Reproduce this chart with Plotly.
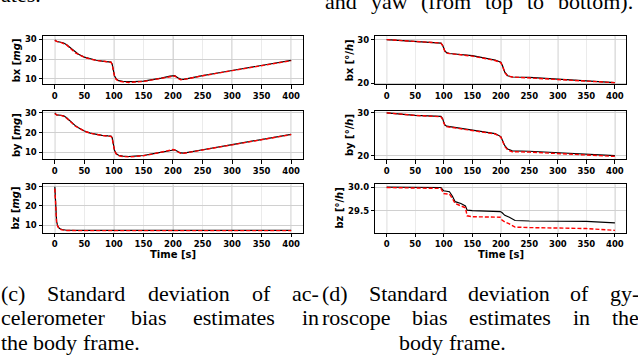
import plotly.graph_objects as go
from plotly.subplots import make_subplots

W, H = 638, 362

# accelerometer bias std [mg]
t_acc = [0, 3, 10, 15, 20, 25, 30, 35, 40, 50, 60, 70, 80, 90, 95, 97, 99, 101, 104, 108,
         115, 125, 135, 150, 165, 180, 195, 200, 203, 208, 213, 218, 225, 250, 300, 350, 400]
acc_bx_est = [29.8, 29.0, 28.6, 28.2, 27.3, 26.0, 24.6, 23.5, 22.5, 21.0, 20.0, 19.4, 19.0, 18.8,
              18.5, 17.5, 14.0, 11.5, 9.8, 9.0, 8.6, 8.4, 8.5, 8.8, 9.5, 10.3, 11.3, 11.7, 11.6,
              10.5, 9.8, 9.7, 10.2, 11.6, 14.2, 16.8, 19.3]
acc_bx_ref = [29.5, 29.0, 28.5, 28.0, 27.2, 25.8, 24.3, 23.2, 22.4, 20.9, 20.0, 19.3, 19.0, 18.7,
              18.4, 17.3, 13.8, 11.2, 9.6, 8.8, 8.4, 8.1, 8.3, 8.6, 9.4, 10.2, 11.2, 11.6, 11.4,
              10.2, 9.5, 9.6, 10.1, 11.5, 14.1, 16.7, 19.2]
acc_by_est = [30.0, 29.0, 28.8, 28.5, 27.5, 26.0, 24.5, 23.4, 22.5, 20.8, 19.7, 19.0, 18.6, 18.3,
              18.2, 17.5, 14.0, 11.0, 9.3, 8.5, 8.1, 7.9, 8.1, 8.4, 9.2, 10.1, 11.1, 11.5, 11.3,
              10.4, 9.7, 9.6, 10.0, 11.3, 13.9, 16.5, 19.1]
acc_by_ref = [29.6, 29.0, 28.7, 28.3, 27.3, 25.8, 24.3, 23.2, 22.4, 20.7, 19.7, 19.0, 18.5, 18.2,
              18.1, 17.3, 13.7, 10.8, 9.1, 8.3, 7.9, 7.7, 7.9, 8.3, 9.1, 10.0, 11.0, 11.4, 11.1,
              10.2, 9.5, 9.5, 9.9, 11.2, 13.8, 16.4, 19.0]
t_acc_z = [0, 1, 2, 3, 5, 8, 12, 20, 40, 100, 200, 300, 400]
acc_bz_est = [30.0, 22.0, 16.0, 12.0, 9.5, 8.3, 7.8, 7.4, 7.3, 7.3, 7.3, 7.3, 7.3]
acc_bz_ref = [29.0, 21.0, 15.0, 11.5, 9.2, 8.1, 7.6, 7.3, 7.2, 7.2, 7.2, 7.2, 7.2]

# gyroscope bias std [deg/h]
t_gyr = [0, 50, 95, 98, 100, 102, 105, 110, 150, 190, 200, 203, 207, 212, 220, 250, 300, 350, 400]
gyr_bx_est = [30.0, 29.6, 29.2, 28.7, 28.0, 27.4, 27.0, 26.8, 26.3, 25.3, 24.8, 24.0, 22.5, 21.7,
              21.4, 21.3, 20.9, 20.5, 20.1]
gyr_bx_ref = [30.0, 29.5, 29.2, 28.6, 27.9, 27.3, 26.9, 26.8, 26.2, 25.2, 24.7, 23.9, 22.4, 21.6,
              21.4, 21.2, 20.8, 20.4, 20.1]
gyr_by_est = [30.0, 29.4, 29.2, 28.7, 27.8, 27.2, 26.9, 26.8, 26.1, 25.2, 24.5, 23.6, 22.4, 21.6,
              21.2, 21.1, 20.8, 20.5, 20.1]
gyr_by_ref = [30.0, 29.4, 29.1, 28.5, 27.7, 27.1, 26.8, 26.7, 26.0, 25.1, 24.4, 23.5, 22.2, 21.4,
              21.0, 20.9, 20.6, 20.2, 19.9]
t_gyr_z = [0, 95, 100, 110, 115, 120, 130, 138, 141, 150, 199, 202, 207, 215, 225, 250, 350, 400]
gyr_bz_est = [30.0, 29.99, 29.92, 29.9, 29.81, 29.69, 29.65, 29.6, 29.51, 29.5, 29.48, 29.46,
              29.4, 29.36, 29.29, 29.28, 29.27, 29.24]
gyr_bz_ref = [29.99, 29.97, 29.86, 29.85, 29.76, 29.65, 29.6, 29.56, 29.39, 29.37, 29.36, 29.3,
              29.26, 29.22, 29.15, 29.14, 29.12, 29.08]

x_ticks = [0, 50, 100, 150, 200, 250, 300, 350, 400]

cap_top = [["ates."], ["and", "yaw", "(from", "top", "to", "bottom)."]]
cap_c = [["(c)", "Standard", "deviation", "of", "ac-"],
         ["celerometer", "bias", "estimates", "in"],
         ["the", "body", "frame."]]
cap_d = [["(d)", "Standard", "deviation", "of", "gy-"],
         ["roscope", "bias", "estimates", "in", "the"],
         ["body", "frame."]]

panels = [
    # row, col, t, black, red, y range, y title, y ticks, title x (px)
    (1, 1, t_acc, acc_bx_est, acc_bx_ref, [7.1, 31.6], "bx [<i>mg</i>]", [10, 20, 30], 16),
    (2, 1, t_acc, acc_by_est, acc_by_ref, [6.5, 31.0], "by [<i>mg</i>]", [10, 20, 30], 16),
    (3, 1, t_acc_z, acc_bz_est, acc_bz_ref, [6.1, 31.2], "bz [<i>mg</i>]", [10, 20, 30], 16),
    (1, 2, t_gyr, gyr_bx_est, gyr_bx_ref, [19.7, 30.75], "bx [°/<i>h</i>]", [20, 30], 349),
    (2, 2, t_gyr, gyr_by_est, gyr_by_ref, [19.25, 30.45], "by [°/<i>h</i>]", [20, 30], 349),
    (3, 2, t_gyr_z, gyr_bz_est, gyr_bz_ref, [29.03, 30.056], "bz [°/<i>h</i>]", [29.5, 30.0], 340),
]

col_dom = {1: [0.0674, 0.4749], 2: [0.5882, 0.9817]}
row_dom = {1: [0.7707, 0.9061], 2: [0.5599, 0.6961], 3: [0.3528, 0.4890]}

fig = make_subplots(rows=3, cols=2)

tick_font = dict(family="DejaVu Sans", size=8.5, color="black", weight="bold")
label_font = dict(family="DejaVu Sans", size=10, color="black", weight="bold")

for row, col, t, black, red, yr, ytitle, yticks, tx in panels:
    fig.add_trace(go.Scatter(x=t, y=black, mode="lines",
                             line=dict(color="black", width=1.2)), row=row, col=col)
    fig.add_trace(go.Scatter(x=t, y=red, mode="lines",
                             line=dict(color="red", width=1.4, dash="4px,2px")), row=row, col=col)
    fig.update_xaxes(domain=col_dom[col], range=[-20, 420], tickvals=x_ticks,
                     showgrid=True, gridcolor="#ebebeb", gridwidth=1, zeroline=False,
                     ticks="outside", ticklen=3.5, tickcolor="black", tickfont=tick_font,
                     showline=True, linecolor="black", linewidth=1, mirror=True,
                     row=row, col=col)
    fig.update_yaxes(domain=row_dom[row], range=yr, tickvals=yticks,
                     tickformat=".1f" if 29 < yticks[0] < 29.9 else "d",
                     showgrid=True, gridcolor="#d0d0d0", gridwidth=1, zeroline=False,
                     ticks="outside", ticklen=3.5, tickcolor="black", tickfont=tick_font,
                     showline=True, linecolor="black", linewidth=1, mirror=True,
                     row=row, col=col)
    for xv in x_ticks[::2]:
        fig.add_vline(x=xv, line_color="#b0b0b0", line_width=1, layer="below", row=row, col=col)
    fig.add_annotation(x=tx / W, y=sum(row_dom[row]) / 2, xref="paper", yref="paper",
                       xanchor="center", yanchor="middle", text=ytitle, textangle=-90,
                       showarrow=False, font=label_font)

for col in (1, 2):
    fig.add_annotation(x=sum(col_dom[col]) / 2, y=1 - 256 / H, xref="paper", yref="paper",
                       xanchor="center", yanchor="middle", text="Time [s]",
                       showarrow=False, font=label_font)

# caption text, justified word by word (Times-like advance widths)
TW = {'a': .444, 'b': .5, 'c': .444, 'd': .5, 'e': .444, 'f': .333, 'g': .5, 'h': .5, 'i': .278,
      'l': .278, 'm': .778, 'n': .5, 'o': .5, 'p': .5, 'r': .333, 's': .389, 't': .278, 'u': .5,
      'v': .5, 'w': .722, 'y': .5, 'S': .556, '(': .333, ')': .333, '-': .333, '.': .25}
CAP = 22


def add_line(words, x0, x1, yc, justify=True):
    widths = [sum(TW.get(ch, .5) for ch in wd) * CAP for wd in words]
    gap = 0.25 * CAP
    if justify and len(words) > 1:
        gap = (x1 - x0 - sum(widths)) / (len(words) - 1)
    x = x0
    for wd, ww in zip(words, widths):
        fig.add_annotation(x=x / W, y=1 - yc / H, xref="paper", yref="paper", text=wd,
                           showarrow=False, xanchor="left", yanchor="middle", borderpad=0,
                           font=dict(family="Liberation Serif", size=CAP, color="black"))
        x += ww + gap


add_line(cap_top[0], 0, 50, -9, justify=False)
add_line(cap_top[1], 324, 632, -2)
add_line(cap_c[0], 0, 318, 296)
add_line(cap_c[1], 0, 318, 321)
add_line(cap_c[2], 0, 145, 346, justify=False)
add_line(cap_d[0], 321, 638, 296)
add_line(cap_d[1], 321, 638, 321)
add_line(cap_d[2], 398, 515, 346, justify=False)

fig.update_layout(width=W, height=H, margin=dict(l=0, r=0, t=0, b=0),
                  paper_bgcolor="white", plot_bgcolor="white", showlegend=False)

fig.write_html("out.html", config={"displayModeBar": False},
               post_script="document.body.style.margin='0px';"
                           "document.body.style.overflow='hidden';")
